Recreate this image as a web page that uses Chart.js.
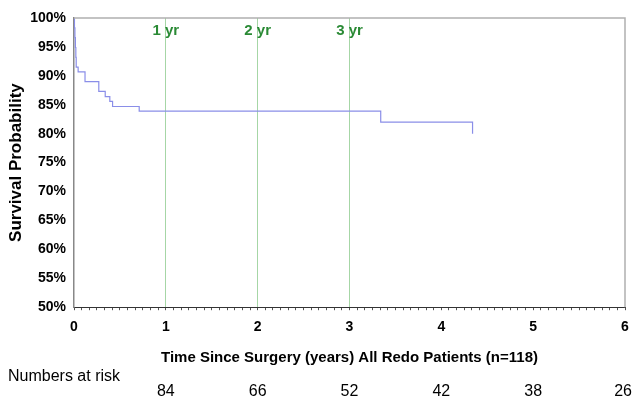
<!DOCTYPE html>
<html>
<head>
<meta charset="utf-8">
<script src="https://cdn.jsdelivr.net/npm/chart.js@4.4.1/dist/chart.umd.min.js"></script>
<style>
html, body { margin: 0; padding: 0; background: #fff; }
</style>
</head>
<body>
<canvas id="km-chart" width="634" height="400"></canvas>
<script>
// Kaplan-Meier curve: time of each drop (years) and survival after it (%)
var times    = [0, 0.005, 0.01, 0.015, 0.02, 0.024, 0.045, 0.12, 0.27, 0.34, 0.39, 0.42, 0.71, 3.34, 4.34];
var survival = [100, 98.3, 96.6, 94.9, 93.2, 91.5, 90.7, 89.0, 87.3, 86.4, 85.6, 84.7, 83.9, 82.0, 80.0];

// reference lines at 1, 2 and 3 years
var yrMarks  = [1, 2, 3];
var yrLabels = ['1 yr', '2 yr', '3 yr'];

// numbers at risk under the axis
var riskYears = [1, 2, 3, 4, 5, 6];
var atRisk    = [84, 66, 52, 42, 38, 26];

var FONT = "'Liberation Sans', Arial, Helvetica, sans-serif";
Chart.defaults.font.family = FONT;
Chart.defaults.color = '#000';

var extras = {
    id: 'extras',
    afterDraw: function (chart) {
        var ctx = chart.ctx;
        var area = chart.chartArea;
        var xs = chart.scales.x;
        ctx.save();
        // grey frame on top and right
        ctx.strokeStyle = '#b0b0b0';
        ctx.lineWidth = 1.5;
        ctx.beginPath();
        ctx.moveTo(area.left, area.top);
        ctx.lineTo(area.right, area.top);
        ctx.lineTo(area.right, area.bottom);
        ctx.stroke();

        // year labels
        ctx.fillStyle = '#2a8a35';
        ctx.font = 'bold 15px ' + FONT;
        ctx.textAlign = 'center';
        ctx.textBaseline = 'middle';
        for (var i = 0; i < yrMarks.length; i++) {
            ctx.fillText(yrLabels[i], xs.getPixelForValue(yrMarks[i]), area.top + 13);
        }

        // numbers at risk
        ctx.fillStyle = '#000';
        ctx.font = '16px ' + FONT;
        ctx.textAlign = 'left';
        ctx.fillText('Numbers at risk', 8, 377);
        for (var j = 0; j < riskYears.length; j++) {
            var txt = String(atRisk[j]);
            var w = ctx.measureText(txt).width;
            var cx = Math.min(xs.getPixelForValue(riskYears[j]), chart.width - 2 - w / 2);
            ctx.textAlign = 'center';
            ctx.fillText(txt, cx, 392);
        }
        ctx.restore();
    }
};

var ctx = document.getElementById('km-chart').getContext('2d');
var kmChart = new Chart(ctx, {
    type: 'line',
    data: {
        datasets: [{
            label: 'All Redo Patients',
            data: times.map(function (t, i) { return { x: t, y: survival[i] }; }),
            stepped: true,
            borderColor: '#8a8ee8',
            borderWidth: 1.2,
            pointRadius: 0,
            fill: false
        }]
    },
    options: {
        responsive: false,
        animation: false,
        devicePixelRatio: 1,
        layout: { padding: { top: 18, right: 9, left: 0, bottom: 33 } },
        plugins: {
            legend: { display: false },
            tooltip: { enabled: false }
        },
        scales: {
            x: {
                type: 'linear',
                min: 0,
                max: 6,
                afterBuildTicks: function (scale) {
                    // monthly minor ticks
                    var t = [];
                    for (var m = 0; m <= 72; m++) t.push({ value: m / 12 });
                    scale.ticks = t;
                },
                afterFit: function (scale) {
                    scale.paddingLeft = 0;
                    scale.paddingRight = 0;
                },
                ticks: {
                    autoSkip: false,
                    maxRotation: 0,
                    padding: 9,
                    font: { size: 14, weight: 'bold' },
                    callback: function (v) {
                        return Math.abs(v - Math.round(v)) < 1e-6 ? String(Math.round(v)) : '';
                    }
                },
                grid: {
                    color: function (c) {
                        return (c.tick && yrMarks.indexOf(c.tick.value) >= 0) ? '#a6d6a6' : 'rgba(0,0,0,0)';
                    },
                    tickColor: '#555',
                    tickLength: 3
                },
                border: { color: '#333', width: 1 },
                title: {
                    display: true,
                    text: 'Time Since Surgery (years) All Redo Patients (n=118)',
                    font: { size: 15, weight: 'bold' },
                    padding: { top: 4, bottom: 0 }
                }
            },
            y: {
                min: 50,
                max: 100,
                afterFit: function (scale) { scale.width = 74; },
                ticks: {
                    stepSize: 5,
                    padding: 8,
                    font: { size: 14, weight: 'bold' },
                    callback: function (v) { return v + '%'; }
                },
                grid: { display: false, drawTicks: false },
                border: { color: '#888', width: 1.5 },
                title: {
                    display: true,
                    text: 'Survival Probability',
                    font: { size: 17, weight: 'bold' },
                    padding: { top: 6, bottom: 0 }
                }
            }
        }
    },
    plugins: [extras]
});
</script>
</body>
</html>
